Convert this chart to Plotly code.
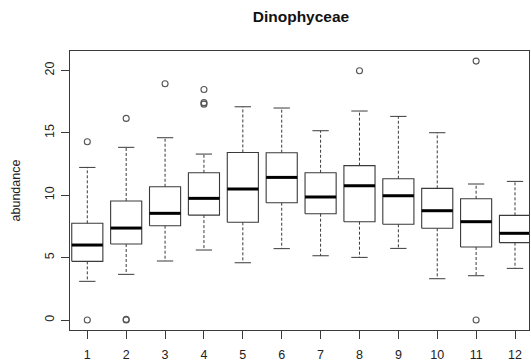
import plotly.graph_objects as go

# ---- data ----
groups = [1, 2, 3, 4, 5, 6, 7, 8, 9, 10, 11, 12]
upper_whisker = [12.23, 13.84, 14.61, 13.30, 17.09, 16.99, 15.17, 16.75, 16.32, 15.01, 10.90, 11.11]
q3_values = [7.75, 9.54, 10.68, 11.80, 13.43, 13.41, 11.80, 12.37, 11.32, 10.55, 9.72, 8.39]
median_values = [6.01, 7.37, 8.55, 9.75, 10.50, 11.43, 9.86, 10.76, 9.96, 8.76, 7.88, 6.95]
q1_values = [4.70, 6.09, 7.56, 8.41, 7.83, 9.40, 8.52, 7.88, 7.67, 7.35, 5.85, 6.20]
lower_whisker = [3.10, 3.66, 4.73, 5.61, 4.59, 5.72, 5.15, 5.02, 5.74, 3.31, 3.55, 4.14]

outlier_group = [1, 1, 2, 2, 2, 3, 4, 4, 4, 8, 11, 11]
outlier_value = [14.29, 0.0, 16.16, 0.0, 0.05, 18.94, 18.48, 17.30, 17.42, 19.98, 20.75, 0.0]

y_ticks = [0, 5, 10, 15, 20]
title_text = "Dinophyceae"
y_title = "abundance"

# ---- styling ----
BOX_HALF = 0.4
STAPLE_HALF = 0.21
LINE_COL = "#3a3a3a"
FONT = "Liberation Sans, Arial, Helvetica, sans-serif"

box_x, box_y = [], []
med_x, med_y = [], []
wh_x, wh_y = [], []
st_x, st_y = [], []
for g, up, a3, md, a1, lo in zip(groups, upper_whisker, q3_values, median_values, q1_values, lower_whisker):
    box_x += [g - BOX_HALF, g + BOX_HALF, g + BOX_HALF, g - BOX_HALF, g - BOX_HALF, None]
    box_y += [a1, a1, a3, a3, a1, None]
    med_x += [g - BOX_HALF, g + BOX_HALF, None]
    med_y += [md, md, None]
    wh_x += [g, g, None, g, g, None]
    wh_y += [a3, up, None, a1, lo, None]
    st_x += [g - STAPLE_HALF, g + STAPLE_HALF, None, g - STAPLE_HALF, g + STAPLE_HALF, None]
    st_y += [up, up, None, lo, lo, None]

fig = go.Figure()
fig.add_trace(go.Scatter(x=wh_x, y=wh_y, mode="lines",
                         line=dict(color=LINE_COL, width=1, dash="3px,2px"), hoverinfo="skip"))
fig.add_trace(go.Scatter(x=st_x, y=st_y, mode="lines",
                         line=dict(color=LINE_COL, width=1), hoverinfo="skip"))
fig.add_trace(go.Scatter(x=box_x, y=box_y, mode="lines",
                         line=dict(color=LINE_COL, width=1.1), hoverinfo="skip"))
fig.add_trace(go.Scatter(x=med_x, y=med_y, mode="lines",
                         line=dict(color="#000000", width=3), hoverinfo="skip"))
fig.add_trace(go.Scatter(x=outlier_group, y=outlier_value, mode="markers",
                         marker=dict(symbol="circle-open", size=6, color="#555555",
                                     line=dict(width=1.1, color="#555555")),
                         cliponaxis=False))

fig.update_layout(
    width=531, height=361,
    margin=dict(l=70, r=2, t=51, b=31, autoexpand=False),
    plot_bgcolor="white", paper_bgcolor="white",
    showlegend=False,
    font=dict(family=FONT, color="#222222", size=13),
    title=dict(text="<b>" + title_text + "</b>", x=301 / 531, xref="container", xanchor="center",
               y=1 - 16.5 / 361, yref="container", yanchor="middle",
               font=dict(family=FONT, size=15.5, color="#111111")),
)
fig.update_xaxes(
    range=[0.555, 12.36], tickmode="array", tickvals=groups, ticktext=[str(g) for g in groups],
    showgrid=False, zeroline=False, showline=True, linecolor=LINE_COL, linewidth=1, mirror=True,
    ticks="outside", ticklen=8, tickcolor=LINE_COL, tickwidth=1, automargin=False,
    tickfont=dict(size=12.5, color="#222222"), ticklabelstandoff=5,
)
fig.update_yaxes(
    range=[-0.8, 21.56], tickmode="array", tickvals=y_ticks, ticktext=[str(v) for v in y_ticks],
    showgrid=False, zeroline=False, showline=True, linecolor=LINE_COL, linewidth=1, mirror=True,
    ticks="outside", ticklen=8, tickcolor=LINE_COL, tickwidth=1, tickangle=-90, automargin=False,
    tickfont=dict(size=12.5, color="#222222"), ticklabelstandoff=2,
    title=dict(text=y_title, font=dict(size=12.5, color="#222222"), standoff=19),
)

fig.write_html("out.html", config={"displayModeBar": False},
               post_script="document.body.style.margin='0px';document.body.style.overflow='hidden';")
